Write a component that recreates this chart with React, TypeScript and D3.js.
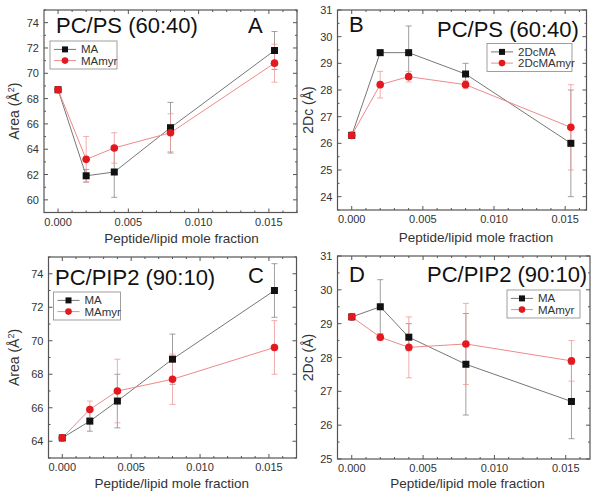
import React from "react";
import * as d3 from "d3";

const xValues = [0, 0.002, 0.004, 0.008, 0.0154];
const xTicks = [0, 0.005, 0.01, 0.015];

// Panel A
const aMA = [68.7, 61.9, 62.2, 65.7, 71.8];
const aMAErr = [0, 0.5, 2.0, 2.0, 1.5];
const aMyr = [68.7, 63.2, 64.1, 65.3, 70.8];
const aMyrErr = [0, 1.8, 1.2, 1.5, 1.5];
const aYTicks = [60, 62, 64, 66, 68, 70, 72, 74];

// Panel B
const bMA = [26.3, 29.4, 29.4, 28.6, 26.0];
const bMAErr = [0, 0.1, 1.0, 0.4, 2.0];
const bMyr = [26.3, 28.2, 28.5, 28.2, 26.6];
const bMyrErr = [0, 0.5, 0.2, 0.15, 1.6];
const bYTicks = [24, 25, 26, 27, 28, 29, 30, 31];

// Panel C
const cMA = [64.2, 65.2, 66.4, 68.9, 73.0];
const cMAErr = [0, 0.6, 1.6, 1.5, 1.6];
const cMyr = [64.2, 65.9, 67.0, 67.7, 69.6];
const cMyrErr = [0, 0.5, 1.9, 1.5, 1.6];
const cYTicks = [64, 66, 68, 70, 72, 74];

// Panel D
const dMA = [29.2, 29.5, 28.6, 27.8, 26.7];
const dMAErr = [0, 0.8, 0.4, 1.5, 1.1];
const dMyr = [29.2, 28.6, 28.3, 28.4, 27.9];
const dMyrErr = [0, 0.1, 0.9, 1.2, 0.6];
const dYTicks = [25, 26, 27, 28, 29, 30, 31];

const FONT = "Liberation Sans, Arial, sans-serif";
const BLACK = "#111";
const BLACK_LINE = "#777";
const RED = "#e3191f";
const RED_LINE = "#ee8a8a";

type Series = { vals: number[]; errs: number[]; kind: "square" | "circle"; name: string };

type PanelProps = {
  left: number; right: number; top: number; bottom: number;
  xDomain: [number, number]; yDomain: [number, number];
  yTicks: number[]; yMinorStep: number; yLabel: React.ReactNode;
  series: Series[];
  title: string; titleX: number; titleY: number;
  letter: string; letterX: number; letterY: number;
  legend: { x: number; y: number; w: number; h: number };
  yLabelX: number;
  xLabelX: number; xLabelY: number;
};

function Panel(p: PanelProps) {
  const x = d3.scaleLinear().domain(p.xDomain).range([p.left, p.right]);
  const y = d3.scaleLinear().domain(p.yDomain).range([p.bottom, p.top]);
  const xMinor = d3.range(0, p.xDomain[1] + 1e-9, 0.001).filter((v) => v >= p.xDomain[0]);
  const yMinor = d3
    .range(Math.ceil(p.yDomain[0] / p.yMinorStep) * p.yMinorStep, p.yDomain[1] + 1e-9, p.yMinorStep);
  const line = d3.line<number>().x((_, i) => x(xValues[i])).y((v) => y(v));
  const frame = "#555";
  const isMajorX = (v: number) => xTicks.some((t) => Math.abs(t - v) < 1e-9);
  const isMajorY = (v: number) => p.yTicks.some((t) => Math.abs(t - v) < 1e-9);
  return (
    <g fontFamily={FONT}>
      {xMinor.map((v, i) => {
        const len = isMajorX(v) ? 4 : 2;
        return (
          <g key={"xt" + i} stroke={frame} strokeWidth={1}>
            <line x1={x(v)} x2={x(v)} y1={p.bottom} y2={p.bottom - len} />
            <line x1={x(v)} x2={x(v)} y1={p.top} y2={p.top + len} />
          </g>
        );
      })}
      {yMinor.map((v, i) => {
        const len = isMajorY(v) ? 4 : 2;
        return (
          <g key={"yt" + i} stroke={frame} strokeWidth={1}>
            <line x1={p.left} x2={p.left + len} y1={y(v)} y2={y(v)} />
            <line x1={p.right} x2={p.right - len} y1={y(v)} y2={y(v)} />
          </g>
        );
      })}
      <rect x={p.left} y={p.top} width={p.right - p.left} height={p.bottom - p.top} fill="none" stroke={frame} strokeWidth={1.2} />
      {xTicks.map((t) => (
        <text key={"xl" + t} x={x(t)} y={p.bottom + 13} fontSize={11} fill="#333" textAnchor="middle">
          {d3.format(".3f")(t)}
        </text>
      ))}
      {p.yTicks.map((t) => (
        <text key={"yl" + t} x={p.left - 5} y={y(t) + 4} fontSize={11} fill="#333" textAnchor="end">
          {t}
        </text>
      ))}
      <text x={p.xLabelX} y={p.xLabelY} fontSize={13.5} fill="#333" textAnchor="middle">
        Peptide/lipid mole fraction
      </text>
      <text
        transform={`translate(${p.yLabelX},${(p.top + p.bottom) / 2}) rotate(-90)`}
        fontSize={14}
        fill="#333"
        textAnchor="middle"
      >
        {p.yLabel}
      </text>
      {p.series.map((s, si) => {
        const lcol = s.kind === "square" ? BLACK_LINE : RED_LINE;
        const ecol = s.kind === "square" ? "#888" : "#e99";
        return (
          <g key={"s" + si}>
            <path d={line(s.vals) || ""} fill="none" stroke={lcol} strokeWidth={1} />
            {s.vals.map((v, i) =>
              s.errs[i] > 0 ? (
                <g key={"e" + i} stroke={ecol} strokeWidth={0.8}>
                  <line x1={x(xValues[i])} x2={x(xValues[i])} y1={y(v - s.errs[i])} y2={y(v + s.errs[i])} />
                  <line x1={x(xValues[i]) - 3} x2={x(xValues[i]) + 3} y1={y(v - s.errs[i])} y2={y(v - s.errs[i])} />
                  <line x1={x(xValues[i]) - 3} x2={x(xValues[i]) + 3} y1={y(v + s.errs[i])} y2={y(v + s.errs[i])} />
                </g>
              ) : null
            )}
          </g>
        );
      })}
      {p.series.map((s, si) => {
        const col = s.kind === "square" ? BLACK : RED;
        return (
          <g key={"m" + si}>
            {s.vals.map((v, i) =>
              s.kind === "square" ? (
                <rect key={i} x={x(xValues[i]) - 3.5} y={y(v) - 3.5} width={7} height={7} fill={col} />
              ) : (
                <circle key={i} cx={x(xValues[i])} cy={y(v)} r={3.8} fill={col} />
              )
            )}
          </g>
        );
      })}
      <rect x={p.legend.x} y={p.legend.y} width={p.legend.w} height={p.legend.h} fill="white" stroke="#888" strokeWidth={0.8} />
      {p.series.map((s, si) => {
        const cy = p.legend.y + p.legend.h * (si === 0 ? 0.3 : 0.7);
        const lx = p.legend.x + 4;
        const col = s.kind === "square" ? BLACK : RED;
        const lcol = s.kind === "square" ? BLACK_LINE : RED_LINE;
        return (
          <g key={"l" + si}>
            <line x1={lx} x2={lx + 22} y1={cy} y2={cy} stroke={lcol} strokeWidth={1} />
            {s.kind === "square" ? (
              <rect x={lx + 11 - 3} y={cy - 3} width={6} height={6} fill={col} />
            ) : (
              <circle cx={lx + 11} cy={cy} r={3.3} fill={col} />
            )}
            <text x={lx + 27} y={cy + 4} fontSize={11.5} fill="#333">
              {s.name}
            </text>
          </g>
        );
      })}
      <text x={p.titleX} y={p.titleY} fontSize={22} fill="#111">
        {p.title}
      </text>
      <text x={p.letterX} y={p.letterY} fontSize={22} fill="#111">
        {p.letter}
      </text>
    </g>
  );
}

const areaLabel = (
  <>
    Area (Å<tspan dy={-5} fontSize={9}>2</tspan>
    <tspan dy={5}>)</tspan>
  </>
);

export default function App() {
  return (
    <svg width={600} height={496} style={{ position: "absolute", left: 0, top: 0, background: "white" }}>
      <rect width={600} height={496} fill="white" />
      <Panel
        left={44} right={297} top={10} bottom={212.5}
        xDomain={[-0.001, 0.017]} yDomain={[59, 75]}
        yTicks={aYTicks} yMinorStep={1} yLabel={areaLabel} yLabelX={19}
        series={[
          { vals: aMA, errs: aMAErr, kind: "square", name: "MA" },
          { vals: aMyr, errs: aMyrErr, kind: "circle", name: "MAmyr" },
        ]}
        title="PC/PS (60:40)" titleX={56} titleY={33}
        letter="A" letterX={248} letterY={33}
        legend={{ x: 50, y: 41, w: 67, h: 28 }}
        xLabelX={181.5} xLabelY={243}
      />
      <Panel
        left={337.5} right={586.5} top={10} bottom={210}
        xDomain={[-0.001, 0.0165]} yDomain={[23.5, 31]}
        yTicks={bYTicks} yMinorStep={0.5} yLabel="2Dc (Å)" yLabelX={313}
        series={[
          { vals: bMA, errs: bMAErr, kind: "square", name: "2DcMA" },
          { vals: bMyr, errs: bMyrErr, kind: "circle", name: "2DcMAmyr" },
        ]}
        title="PC/PS (60:40)" titleX={437} titleY={37}
        letter="B" letterX={349} letterY={32}
        legend={{ x: 487, y: 43.5, w: 85, h: 28 }}
        xLabelX={476} xLabelY={241.5}
      />
      <Panel
        left={48.5} right={296.5} top={257} bottom={458}
        xDomain={[-0.001, 0.017]} yDomain={[63, 75]}
        yTicks={cYTicks} yMinorStep={1} yLabel={areaLabel} yLabelX={19}
        series={[
          { vals: cMA, errs: cMAErr, kind: "square", name: "MA" },
          { vals: cMyr, errs: cMyrErr, kind: "circle", name: "MAmyr" },
        ]}
        title="PC/PIP2 (90:10)" titleX={55} titleY={285}
        letter="C" letterX={248} letterY={283}
        legend={{ x: 53.5, y: 292, w: 67, h: 28 }}
        xLabelX={171.7} xLabelY={488}
      />
      <Panel
        left={337.5} right={590} top={256} bottom={459}
        xDomain={[-0.001, 0.0167]} yDomain={[25, 31]}
        yTicks={dYTicks} yMinorStep={0.5} yLabel="2Dc (Å)" yLabelX={313}
        series={[
          { vals: dMA, errs: dMAErr, kind: "square", name: "MA" },
          { vals: dMyr, errs: dMyrErr, kind: "circle", name: "MAmyr" },
        ]}
        title="PC/PIP2 (90:10)" titleX={427} titleY={282}
        letter="D" letterX={349} letterY={282}
        legend={{ x: 507, y: 290, w: 73, h: 28 }}
        xLabelX={467.5} xLabelY={488}
      />
    </svg>
  );
}
